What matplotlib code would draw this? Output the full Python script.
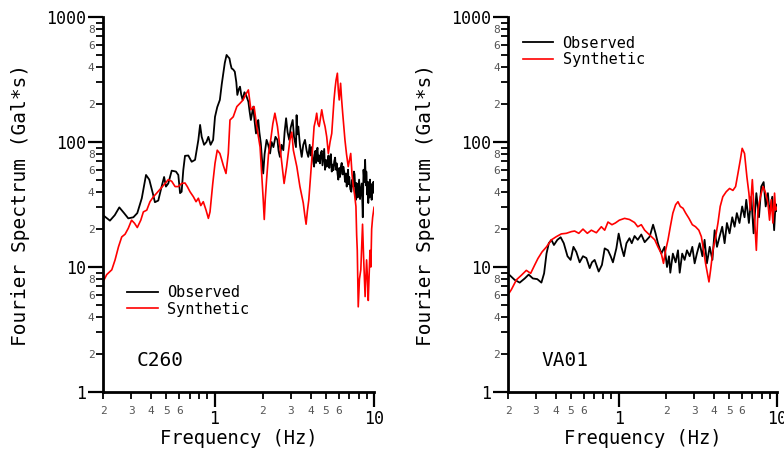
import matplotlib
matplotlib.use('Agg')
import matplotlib.pyplot as plt
from matplotlib.ticker import FixedLocator, FixedFormatter

plt.rcParams['font.family'] = ['DejaVu Sans Mono']

# ---- C260 ----
c260_obs_f = [0.200, 0.221, 0.237, 0.253, 0.271, 0.288, 0.310, 0.328, 0.350, 0.372,
              0.390, 0.410, 0.423, 0.444, 0.466, 0.483, 0.496, 0.513, 0.539, 0.573,
              0.593, 0.608, 0.622, 0.637, 0.653, 0.685, 0.719, 0.755, 0.792, 0.812,
              0.831, 0.860, 0.890, 0.915, 0.945, 0.980, 1.007, 1.040, 1.080, 1.110,
              1.135, 1.160, 1.190, 1.215, 1.240, 1.260, 1.280, 1.310, 1.340, 1.370,
              1.390, 1.420, 1.445, 1.470, 1.500, 1.540, 1.575, 1.600, 1.630, 1.660,
              1.690, 1.720, 1.750, 1.780, 1.820, 1.850, 1.880, 1.910, 1.950, 1.980,
              2.020, 2.060, 2.120, 2.170, 2.230, 2.280, 2.340, 2.410, 2.480, 2.520,
              2.570, 2.630, 2.700, 2.750, 2.810, 2.870, 2.940, 3.000, 3.090, 3.150,
              3.240, 3.270, 3.300, 3.350, 3.430, 3.520, 3.600, 3.690, 3.780, 3.870,
              3.95, 4.01, 4.07, 4.14, 4.21, 4.25, 4.29, 4.33, 4.37, 4.42,
              4.47, 4.52, 4.58, 4.64, 4.70, 4.75, 4.81, 4.87, 4.93, 4.99,
              5.05, 5.12, 5.18, 5.24, 5.30, 5.36, 5.43, 5.50, 5.56, 5.63,
              5.70, 5.77, 5.83, 5.90, 5.97, 6.05, 6.12, 6.20, 6.27, 6.35,
              6.42, 6.50, 6.58, 6.66, 6.74, 6.80, 6.87, 6.93, 6.99, 7.10,
              7.20, 7.30, 7.41, 7.48, 7.55, 7.62, 7.70, 7.76, 7.83, 7.90,
              7.96, 8.06, 8.17, 8.28, 8.38, 8.50, 8.59, 8.69, 8.79, 8.84,
              8.89, 8.94, 8.98, 9.04, 9.10, 9.15, 9.20, 9.25, 9.30, 9.36,
              9.43, 9.49, 9.55, 9.60, 9.66, 9.75, 9.83, 9.91, 10.0]
c260_obs = [26, 23.5, 26, 30, 27, 24.5, 25, 27, 35.5, 54.5,
            50, 39, 33, 34, 44, 52.5, 44, 46.6, 59, 58,
            54.5, 39, 40, 59.5, 77.5, 78, 69.5, 72, 104, 137,
            110, 95, 100, 110, 95, 104, 159, 190, 217, 290,
            355, 430, 497, 480, 467, 420, 388, 380, 365, 300,
            238, 265, 277, 240, 217, 250, 238, 225, 210, 175,
            150, 170, 192, 150, 117, 135, 150, 120, 98, 75,
            56, 80, 104, 95, 81, 100, 91, 110, 104, 85,
            76, 95, 86, 120, 155, 120, 104, 130, 150, 110,
            91, 164, 115, 133, 95, 76, 95, 104, 85, 76,
            95, 78, 91, 72, 63.5, 80, 85, 68, 81, 90,
            70, 78, 67.5, 82, 85, 65, 76, 88, 60, 72,
            63.5, 70, 78, 62, 72, 80, 58, 66, 59.5, 70,
            75, 60, 67.5, 56, 50, 62, 52.5, 64, 68, 55,
            63.5, 58, 48, 56, 44, 52, 60, 46, 52.5, 42,
            40, 50, 44, 58, 55, 42, 34.5, 47, 45, 36,
            41, 50, 35, 42, 46.6, 25, 60, 48, 72, 55,
            45, 58, 52.5, 38, 40, 48, 32.5, 44, 45, 36,
            50, 42, 38, 46, 34.5, 44, 39, 48, 42]

c260_syn_f = [0.200, 0.211, 0.227, 0.238, 0.250, 0.262, 0.275, 0.288, 0.302, 0.315,
              0.328, 0.345, 0.358, 0.376, 0.394, 0.414, 0.434, 0.460, 0.490, 0.513,
              0.539, 0.566, 0.593, 0.622, 0.653, 0.675, 0.702, 0.737, 0.766, 0.792,
              0.820, 0.850, 0.885, 0.915, 0.937, 0.975, 1.007, 1.040, 1.080, 1.110,
              1.135, 1.180, 1.220, 1.250, 1.310, 1.380, 1.445, 1.510, 1.570, 1.630,
              1.690, 1.770, 1.840, 1.930, 2.020, 2.050, 2.080, 2.120, 2.180, 2.250,
              2.320, 2.390, 2.480, 2.600, 2.730, 2.830, 2.970, 3.050, 3.120, 3.280,
              3.430, 3.600, 3.680, 3.750, 3.820, 3.900, 4.070, 4.210, 4.300, 4.370,
              4.450, 4.530, 4.700, 4.820, 4.930, 5.050, 5.170, 5.300, 5.430, 5.610,
              5.700, 5.780, 5.890, 5.970, 6.050, 6.170, 6.260, 6.360, 6.570, 6.720,
              6.890, 7.140, 7.280, 7.410, 7.550, 7.700, 7.780, 7.850, 7.960, 8.100,
              8.260, 8.470, 8.600, 8.790, 8.980, 9.100, 9.200, 9.430, 9.550, 9.660,
              9.800, 10.00]
c260_syn = [7.6, 8.7, 9.5, 11.4, 14.5, 17.4, 18.3, 20.4, 23.7, 22.4,
            20.7, 23.7, 27.6, 28.5, 33.3, 36.5, 39, 42.5, 46.6, 50,
            48.5, 44, 44, 46.6, 47, 44, 40, 36.5, 33.3, 35.5,
            31, 33.3, 28.5, 24.5, 27.6, 46.6, 67.5, 86, 81, 72,
            65, 56, 81, 150, 159, 192, 204, 217, 240, 261,
            181, 192, 133, 91, 34.5, 24, 35, 50, 80, 104,
            140, 170, 133, 81, 46.6, 63.5, 104, 120, 86, 63.5,
            44, 32.5, 26, 22, 28, 34.5, 72, 133, 150, 170,
            140, 133, 181, 150, 133, 110, 81, 100, 117, 217,
            270, 313, 355, 260, 217, 295, 220, 170, 104, 80,
            63.5, 81, 55, 44, 38, 30.5, 18, 13.6, 4.8, 8,
            9.5, 22, 12, 5.8, 11.4, 8, 5.4, 13.6, 10, 20.1,
            25, 30]

# ---- VA01 ----
va01_obs_f = [0.200, 0.205, 0.220, 0.237, 0.255, 0.270, 0.287, 0.306, 0.325, 0.338,
              0.350, 0.362, 0.376, 0.390, 0.410, 0.430, 0.450, 0.475, 0.497, 0.518,
              0.540, 0.567, 0.595, 0.625, 0.656, 0.678, 0.705, 0.748, 0.784, 0.816,
              0.856, 0.890, 0.920, 0.967, 1.000, 1.040, 1.080, 1.120, 1.170, 1.210,
              1.260, 1.320, 1.390, 1.460, 1.570, 1.650, 1.710, 1.770, 1.860, 1.950,
              2.020, 2.080, 2.120, 2.200, 2.290, 2.370, 2.430, 2.520, 2.610, 2.700,
              2.810, 2.920, 3.020, 3.120, 3.250, 3.380, 3.490, 3.610, 3.760, 3.910,
              4.040, 4.180, 4.340, 4.510, 4.670, 4.830, 5.020, 5.220, 5.400, 5.580,
              5.800, 6.030, 6.240, 6.400, 6.650, 6.880, 7.120, 7.410, 7.700, 7.960,
              8.240, 8.490, 8.770, 8.980, 9.340, 9.600, 9.800, 10.00]
va01_obs = [8.8, 8.6, 7.9, 7.5, 8.1, 8.7, 8.1, 8.0, 7.5, 8.9,
            12.8, 15.5, 16.5, 15, 16.5, 17.3, 15.5, 12.2, 11.4, 14.5,
            13.2, 10.9, 12.2, 11.8, 9.8, 10.9, 11.4, 9.2, 10.4, 14.1,
            13.6, 12.2, 10.9, 14.1, 18.5, 14.5, 12.2, 15.5, 17, 15.5,
            17.7, 16.5, 18.2, 15.8, 17.5, 21.8, 18.6, 15.5, 12.8, 14.5,
            10, 12.2, 9, 12.8, 10.9, 13.6, 9, 12.8, 11.4, 13.6,
            12.2, 14.5, 10.7, 12.8, 15.5, 12.2, 16.5, 10.7, 14.5, 11.4,
            19.7, 14.5, 17.5, 21, 15.5, 22.5, 18.6, 25, 21, 27,
            22.5, 30.5, 25, 34.5, 22.5, 36.5, 18.6, 39, 25, 44,
            47.8, 30.5, 39, 27, 36.5, 19.7, 32, 28]

va01_syn_f = [0.200, 0.210, 0.226, 0.243, 0.261, 0.278, 0.295, 0.309, 0.328, 0.350,
              0.376, 0.404, 0.434, 0.467, 0.503, 0.527, 0.560, 0.595, 0.634, 0.672,
              0.723, 0.777, 0.816, 0.856, 0.907, 0.953, 1.010, 1.090, 1.170, 1.260,
              1.320, 1.390, 1.460, 1.530, 1.610, 1.690, 1.770, 1.860, 1.920, 1.980,
              2.050, 2.120, 2.200, 2.290, 2.370, 2.450, 2.550, 2.650, 2.780, 2.920,
              3.060, 3.210, 3.330, 3.440, 3.540, 3.630, 3.720, 3.810, 3.940, 4.100,
              4.240, 4.380, 4.550, 4.780, 5.020, 5.270, 5.480, 5.670, 5.870, 6.030,
              6.240, 6.460, 6.650, 6.790, 6.990, 7.150, 7.410, 7.590, 7.860, 8.170,
              8.490, 8.770, 8.980, 9.210, 9.430, 9.660, 9.800, 10.00]
va01_syn = [6.0, 6.6, 7.9, 8.6, 9.4, 8.9, 10.4, 11.7, 13.2, 14.5,
            16.5, 17.5, 18.4, 18.6, 19.2, 19.4, 18.6, 20.1, 18.6, 19.7,
            18.8, 21, 19.7, 22.9, 21.8, 22.5, 23.7, 24.5, 24, 22.7,
            21, 21.8, 19.7, 18.6, 17.5, 16.5, 14.5, 12.8, 10.7, 13.6,
            16.5, 21, 27, 31.5, 33.3, 30.5, 29.5, 27, 24.5, 21.8,
            21, 19.7, 17.5, 13.6, 10.7, 9, 7.6, 9.5, 13.6, 17.5,
            22.5, 30.5, 36.5, 40, 42.5, 41, 44, 56, 72, 89,
            81, 52.5, 39, 28.5, 50, 30.5, 13.6, 28.5, 36.5, 44,
            39, 32.5, 23.7, 34.5, 22.5, 39, 28.5, 30]

x_minor = [0.2, 0.3, 0.4, 0.5, 0.6, 0.7, 0.8, 0.9, 2, 3, 4, 5, 6, 7, 8, 9]
x_minor_labels = ['2', '3', '4', '5', '6', '', '', '', '2', '3', '4', '5', '6', '', '', '']
y_major = [1, 10, 100, 1000]
y_minor = [m * d for d in (1, 10, 100) for m in range(2, 10)]
y_minor_labels = [str(m) if m % 2 == 0 else '' for d in (1, 10, 100) for m in range(2, 10)]


def draw_panel(ax, f_obs, obs, f_syn, syn, station, legend_xy):
    ax.plot(f_obs, obs, color='black', lw=1.3, label='Observed')
    ax.plot(f_syn, syn, color='red', lw=1.2, label='Synthetic')
    ax.set_xscale('log')
    ax.set_yscale('log')
    ax.set_xlim(0.2, 10)
    ax.set_ylim(1, 1000)

    ax.xaxis.set_major_locator(FixedLocator([1, 10]))
    ax.xaxis.set_major_formatter(FixedFormatter(['1', '10']))
    ax.xaxis.set_minor_locator(FixedLocator(x_minor))
    ax.xaxis.set_minor_formatter(FixedFormatter(x_minor_labels))
    ax.yaxis.set_major_locator(FixedLocator(y_major))
    ax.yaxis.set_major_formatter(FixedFormatter(['1', '10', '100', '1000']))
    ax.yaxis.set_minor_locator(FixedLocator(y_minor))
    ax.yaxis.set_minor_formatter(FixedFormatter(y_minor_labels))

    ax.tick_params(which='major', direction='out', length=11, width=1.6, labelsize=12, pad=1)
    ax.tick_params(which='minor', direction='out', length=5, width=1.3, labelsize=8,
                   labelcolor='#555555', pad=1)
    ax.tick_params(axis='x', which='minor', pad=5)
    ax.tick_params(axis='x', which='major', pad=2)
    for s in ('top', 'right'):
        ax.spines[s].set_visible(False)
    for s in ('left', 'bottom'):
        ax.spines[s].set_linewidth(2)

    ax.set_xlabel('Frequency (Hz)', fontsize=13.5, labelpad=1)
    ax.set_ylabel('Fourier Spectrum (Gal*s)', fontsize=14, labelpad=12)
    ax.text(0.125, 0.085, station, transform=ax.transAxes, fontsize=14,
            ha='left', va='center')
    ax.legend(loc='upper left', bbox_to_anchor=legend_xy, frameon=False,
              fontsize=11, handlelength=2.0, handletextpad=0.6, labelspacing=0.1,
              borderaxespad=0, borderpad=0)


fig = plt.figure(figsize=(7.84, 4.57), dpi=100)
ax1 = fig.add_axes([0.1314, 0.1422, 0.3457, 0.8206])
ax2 = fig.add_axes([0.648, 0.1422, 0.343, 0.8206])

draw_panel(ax1, c260_obs_f, c260_obs, c260_syn_f, c260_syn, 'C260', (0.09, 0.285))
draw_panel(ax2, va01_obs_f, va01_obs, va01_syn_f, va01_syn, 'VA01', (0.055, 0.95))

fig.savefig('out.png', dpi=100)
